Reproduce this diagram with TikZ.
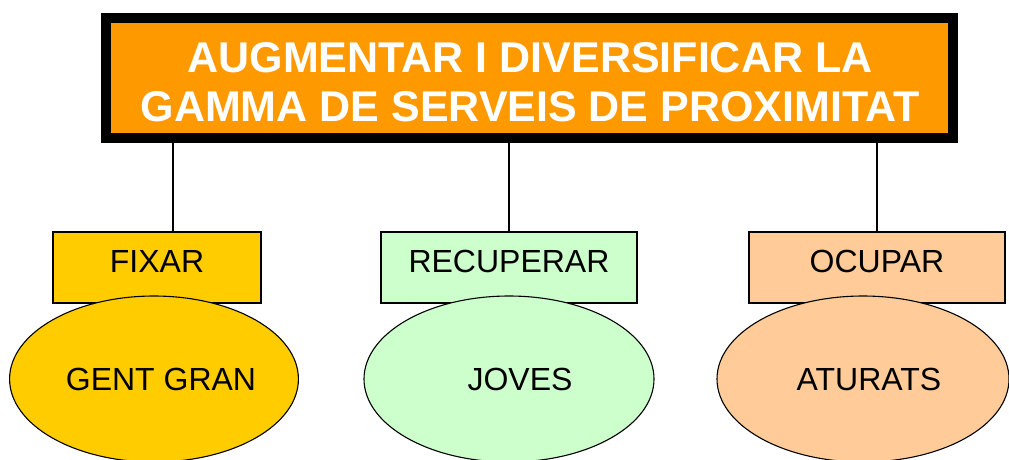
\documentclass[tikz,border=0pt]{standalone}
\usepackage{fontspec}
\setmainfont{Liberation Sans}
\usetikzlibrary{shapes.geometric}
\definecolor{toporange}{HTML}{FF9900}
\definecolor{gold}{HTML}{FFCC00}
\definecolor{mint}{HTML}{CCFFCC}
\definecolor{peach}{HTML}{FFCC99}
\tikzset{
  titlebox/.style={draw=black, line width=10pt, fill=toporange, rectangle,
    minimum width=847pt, minimum height=120pt, inner sep=0pt, outer sep=0pt},
  titletext/.style={text=white, font=\fontsize{43}{49}\selectfont\bfseries, align=center, inner sep=0pt},
  verbbox/.style={draw=black, line width=1.3pt, rectangle,
    minimum height=71pt, inner sep=0pt, outer sep=0pt, text height=23pt, text depth=14pt,
    font=\fontsize{32}{38}\selectfont},
  groupell/.style={draw=black, line width=1.1pt, ellipse, minimum height=166pt,
    inner sep=0pt, text height=23pt, text depth=0pt, font=\fontsize{32}{38}\selectfont},
  conn/.style={draw=black, line width=1.3pt}
}
\begin{document}
\begin{tikzpicture}[x=1pt, y=-1pt]
\useasboundingbox (0,0) rectangle (1009,459);
\clip (0,0) rectangle (1009,459);
% title
\node[titlebox] (top) at (529.5,78) {};
\node[titletext] (toptext) at (530,82) {AUGMENTAR I DIVERSIFICAR LA\\GAMMA DE SERVEIS DE PROXIMITAT};
% verb boxes
\node[verbbox, fill=gold, minimum width=208pt] (fixar) at (157,267.5) {FIXAR};
\node[verbbox, fill=mint, minimum width=256pt] (recuperar) at (509,267.5) {RECUPERAR};
\node[verbbox, fill=peach, minimum width=256pt] (ocupar) at (877,267.5) {OCUPAR};
% connectors
\coordinate (fx) at ([xshift=16pt]fixar.north);
\draw[conn] (fx) -- (fx |- top.south);
\draw[conn] (recuperar.north) -- (recuperar.north |- top.south);
\draw[conn] (ocupar.north) -- (ocupar.north |- top.south);
% groups
\node[groupell, fill=gold, minimum width=288pt] (gent) at (154,379) {\hspace*{14pt}GENT GRAN};
\node[groupell, fill=mint, minimum width=290pt] (joves) at (509,379) {\hspace*{22pt}JOVES};
\node[groupell, fill=peach, minimum width=292pt] (aturats) at (863,379) {\hspace*{12pt}ATURATS};
\end{tikzpicture}
\end{document}
